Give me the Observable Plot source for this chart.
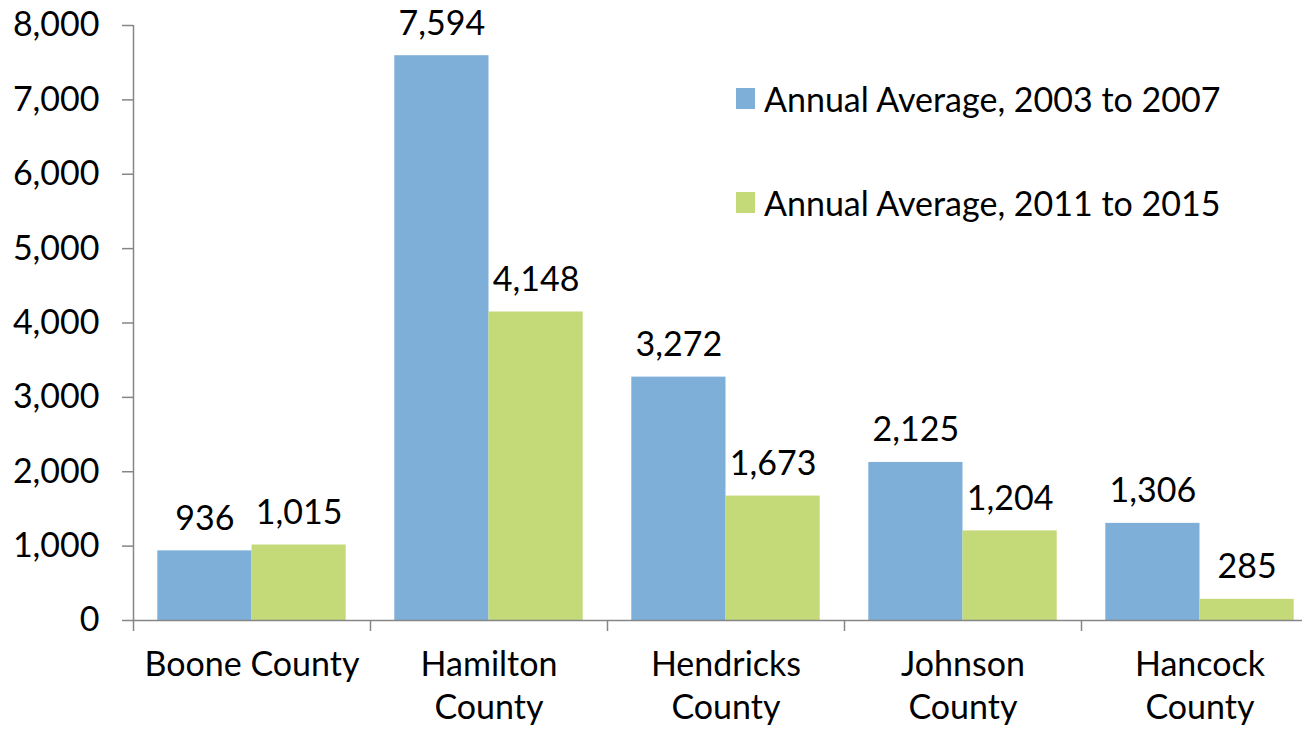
<!DOCTYPE html>
<html>
<head>
<meta charset="utf-8">
<script src="https://cdn.jsdelivr.net/npm/d3@7"></script>
<script src="https://cdn.jsdelivr.net/npm/@observablehq/plot@0.6"></script>
<style>
  html, body { margin: 0; padding: 0; background: #fff; overflow: hidden; width: 1302px; height: 730px; }
  #wrap { position: relative; width: 1302px; height: 730px; overflow: hidden; }
  #wrap svg { max-width: none !important; }
  #legend { position: absolute; left: 736px; top: 0; font-family: Lato, sans-serif; font-size: 34px; color: #000; }
  .item { position: absolute; white-space: nowrap; display: flex; align-items: center; }
  .sw { width: 19px; height: 21px; margin-right: 9px; }
</style>
</head>
<body>
<div id="wrap"><div id="legend"></div></div>
<script>
const counties = ["Boone County", "Hamilton County", "Hendricks County", "Johnson County", "Hancock County"];
const tickLabels = ["Boone County", "Hamilton\nCounty", "Hendricks\nCounty", "Johnson\nCounty", "Hancock\nCounty"];
const seriesNames = ["Annual Average, 2003 to 2007", "Annual Average, 2011 to 2015"];
const avg2003to2007 = [936, 7594, 3272, 2125, 1306];
const avg2011to2015 = [1015, 4148, 1673, 1204, 285];
const yTicks = [0, 1000, 2000, 3000, 4000, 5000, 6000, 7000, 8000];
const colors = ["#7dafd9", "#c4d977"];

const gap = 0.1025; // outer padding of each county group, in band units
const rows = [];
counties.forEach((c, i) => {
  rows.push({i, county: c, series: seriesNames[0], value: avg2003to2007[i], x1: i + gap, x2: i + 0.5});
  rows.push({i, county: c, series: seriesNames[1], value: avg2011to2015[i], x1: i + 0.5, x2: i + 1 - gap});
});

const axisColor = "#868686";
const fs = 34;
const chart = Plot.plot({
  width: 1318,
  height: 730,
  marginLeft: 133,
  marginRight: 0,
  marginTop: 25,
  marginBottom: 110,
  style: {fontFamily: "Lato, sans-serif", fontSize: fs + "px", color: "#000", background: "transparent", overflow: "visible", maxWidth: "none"},
  x: {domain: [0, counties.length], label: null},
  y: {domain: [0, 8000], label: null},
  color: {domain: seriesNames, range: colors},
  marks: [
    Plot.rectY(rows, {x1: "x1", x2: "x2", y: "value", fill: "series"}),
    Plot.text(rows, {x: d => (d.x1 + d.x2) / 2, y: "value", text: d => d3.format(",")(d.value), lineAnchor: "bottom", dy: -21, fontSize: fs, fill: "#000"}),
    Plot.ruleX([0], {stroke: axisColor, strokeWidth: 1.5}),
    Plot.ruleY([0], {stroke: axisColor, strokeWidth: 1.5}),
    Plot.axisY({ticks: yTicks, tickSize: 11, tickPadding: 23, tickFormat: d3.format(","), stroke: axisColor, strokeWidth: 1.5, fill: "#000", fontSize: fs, label: null}),
    Plot.axisX({ticks: d3.range(0, counties.length + 1), tickSize: 11, tickFormat: () => "", stroke: axisColor, strokeWidth: 1.5, label: null}),
    Plot.axisX({ticks: counties.map((c, i) => i + 0.5), tickSize: 0, tickPadding: 25, tickFormat: v => tickLabels[Math.floor(v)], lineHeight: 1.27, fill: "#000", fontSize: fs, label: null})
  ]
});
document.getElementById("wrap").prepend(chart);

const legend = document.getElementById("legend");
const tops = [78, 182];
seriesNames.forEach((s, k) => {
  const item = document.createElement("div");
  item.className = "item";
  item.style.top = tops[k] + "px";
  const sw = document.createElement("div");
  sw.className = "sw";
  sw.style.background = colors[k];
  const label = document.createElement("span");
  label.textContent = s;
  item.appendChild(sw);
  item.appendChild(label);
  legend.appendChild(item);
});
</script>
</body>
</html>
